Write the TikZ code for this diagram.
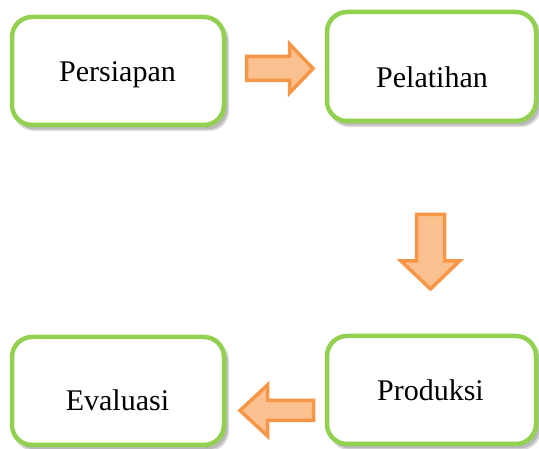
\documentclass[tikz,border=0pt]{standalone}
\usepackage{fontspec}
\setmainfont{Liberation Serif}
\definecolor{boxgreen}{HTML}{92D050}
\definecolor{arrline}{HTML}{F79646}
\definecolor{arrfill}{HTML}{FAC090}
\begin{document}
\begin{tikzpicture}[x=1pt,y=-1pt,
  stepbox/.style={draw=boxgreen,line width=4.5pt,fill=white,rounded corners=20pt},
  shadowbox/.style={fill=black,opacity=0.15,rounded corners=20pt},
  blockarr/.style={draw=arrline,fill=arrfill,line width=3.5pt,line join=miter},
  lbl/.style={font=\fontsize{30}{30}\selectfont,anchor=base,inner sep=0pt}]
\useasboundingbox (0,0) rectangle (539,449);
% shadows
\foreach \a/\b/\c/\d in {12/17/224/125, 327/12/536/121, 327/336/536/444, 12/337/224/445}{
  \fill[shadowbox] (\a+2,\b+3) rectangle (\c+5,\d+6);
  \fill[shadowbox] (\a+3,\b+4) rectangle (\c+3.5,\d+4.5);
}
% boxes
\draw[stepbox] (12,17) rectangle (224,125);
\draw[stepbox] (327,12) rectangle (536,121);
\draw[stepbox] (327,336) rectangle (536,444);
\draw[stepbox] (12,337) rectangle (224,445);
% labels
\node[lbl] (persiapan) at (117.5,82) {Persiapan};
\node[lbl] (pelatihan) at (432,88) {Pelatihan};
\node[lbl] (produksi) at (430.5,401) {Produksi};
\node[lbl] (evaluasi) at (117.5,411) {Evaluasi};
% block arrows
\draw[blockarr] (246.5,56.5) -- (289.5,56.5) -- (289.5,44) -- (313,68.5) -- (289.5,93) -- (289.5,80.5) -- (246.5,80.5) -- cycle;
\draw[blockarr] (416.5,214.5) -- (444.5,214.5) -- (444.5,261) -- (459.5,261) -- (430.5,289) -- (401,261) -- (416.5,261) -- cycle;
\draw[blockarr] (313.5,400.5) -- (267.5,400.5) -- (267.5,385) -- (240,410.5) -- (267.5,436) -- (267.5,420.5) -- (313.5,420.5) -- cycle;
\end{tikzpicture}
\end{document}
